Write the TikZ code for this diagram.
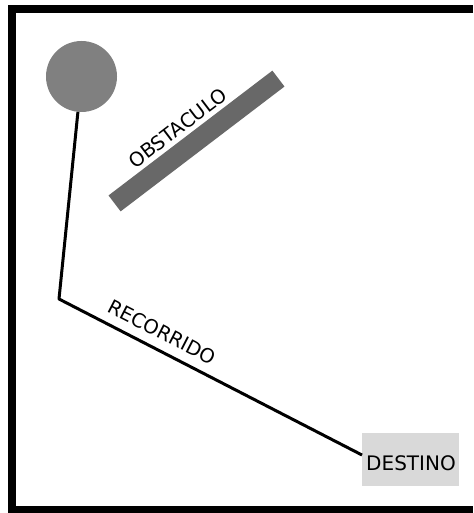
\documentclass[tikz,border=0pt]{standalone}
\usepackage{fontspec}
\setmainfont{DejaVu Sans}
\begin{document}
\begin{tikzpicture}[x=1pt,y=-1pt,
  lbl/.style={inner sep=0pt, font=\fontsize{19.5}{21}\selectfont},
  path/.style={line width=3pt, line join=round}]
\useasboundingbox (0,0) rectangle (473,513);
\fill[white] (0,0) rectangle (473,513);
% frame
\draw[line width=8pt] (473,9) -- (12,9) -- (12,509.5) -- (473,509.5);
% start
\node[circle, fill={rgb,255:red,128;green,128;blue,128}, minimum size=71pt, inner sep=0pt] (start) at (81.5,76.5) {};
% obstacle
\node[rectangle, fill={rgb,255:red,104;green,104;blue,104}, minimum width=206pt, minimum height=20pt, inner sep=0pt, rotate=37.3] (obst) at (196.5,141) {};
\node[lbl, rotate=37.3] (obstlbl) at (177.5,128) {OBSTACULO};
% destination
\node[rectangle, fill={rgb,255:red,217;green,217;blue,217}, minimum width=97pt, minimum height=53pt, inner sep=0pt] (dest) at (410.5,459.5) {};
\node[lbl, font=\fontsize{20}{22}\selectfont] (destlbl) at (411,463) {DESTINO};
\coordinate (corner) at (59,299);
\coordinate (goal) at (362,455);
\draw[path] (start) -- (corner) -- (goal);
\node[lbl, rotate=-27.2] (reclbl) at (162,332) {RECORRIDO};
\end{tikzpicture}
\end{document}
